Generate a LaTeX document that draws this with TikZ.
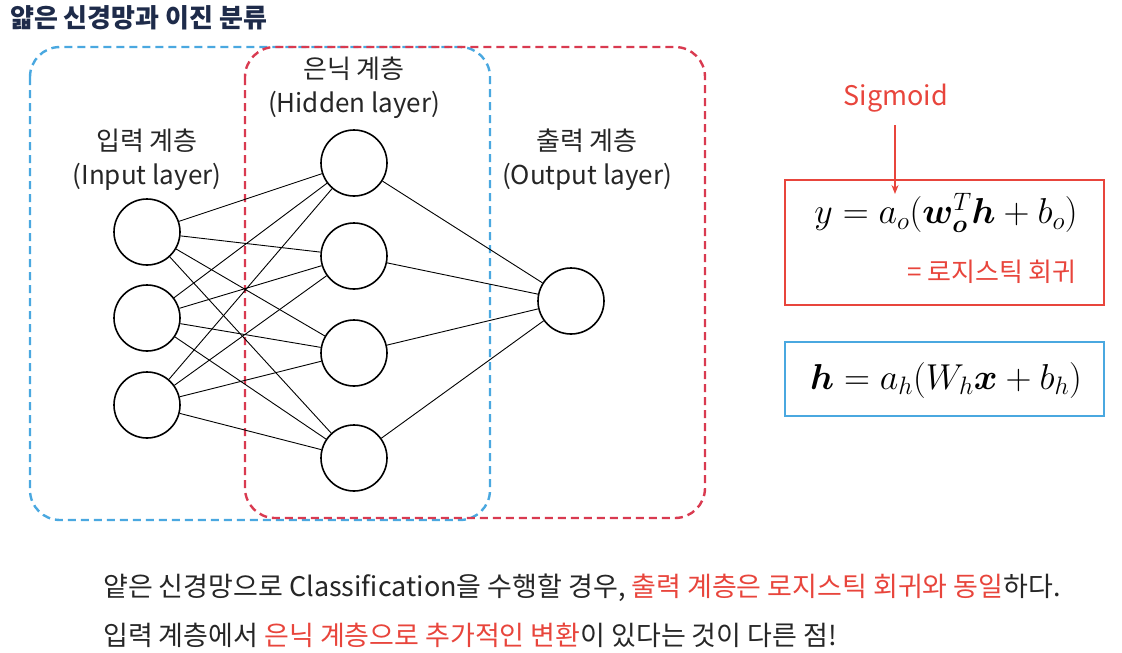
\RequirePackage{fix-cm}
\documentclass[tikz,border=0pt]{standalone}
\usepackage{amsmath}
\usepackage{bm}
\usepackage{fontspec}
\setmainfont{Noto Sans CJK KR}
\usetikzlibrary{arrows.meta}
\definecolor{navy}{HTML}{1E2B4A}
\definecolor{dblue}{HTML}{4AA8E0}
\definecolor{dred}{HTML}{D93A50}
\definecolor{fred}{HTML}{E8453C}
\definecolor{fblue}{HTML}{4AA8E0}
\tikzset{
  neuron/.style={circle,draw=black,line width=1.6pt,minimum size=66pt,inner sep=0pt},
  conn/.style={draw=black,line width=0.9pt},
  dashbox/.style={line width=2.4pt,dash pattern=on 8pt off 5pt,rounded corners=30pt},
  lbl/.style={font=\fontsize{26}{34}\selectfont,align=center,text=black!85},
  fbox/.style={line width=2.4pt},
  body/.style={font=\fontsize{27}{32}\selectfont,anchor=west,text=black!85,inner sep=0pt}
}
\begin{document}
\begin{tikzpicture}[x=1pt,y=-1pt]
\useasboundingbox (0,0) rectangle (1122,653);
% title
\node[anchor=west,inner sep=0pt,text=navy,font=\fontsize{26}{30}\selectfont\bfseries] (title) at (10,18) {얇은 신경망과 이진 분류};
% dashed boxes
\draw[dashbox,draw=dblue] (30,47) rectangle (490,520);
\draw[dashbox,draw=dred] (245,47) rectangle (705,518);
% neurons
\node[neuron] (i1) at (147,232) {};
\node[neuron] (i2) at (147,318) {};
\node[neuron] (i3) at (147,405) {};
\node[neuron] (h1) at (354,163) {};
\node[neuron] (h2) at (354,256) {};
\node[neuron] (h3) at (354,353) {};
\node[neuron] (h4) at (354,458) {};
\node[neuron] (o1) at (571,301) {};
\foreach \i in {i1,i2,i3}{
  \foreach \h in {h1,h2,h3,h4}{
    \draw[conn] (\i) -- (\h);
  }
}
\foreach \h in {h1,h2,h3,h4}{
  \draw[conn] (\h) -- (o1);
}
% layer labels
\node[lbl] (li) at (147,160) {입력 계층\\(Input layer)};
\node[lbl] (lh) at (354,88) {은닉 계층\\(Hidden layer)};
\node[lbl] (lo) at (587,160) {출력 계층\\(Output layer)};
% formula boxes
\draw[fbox,draw=fred] (785,180) rectangle (1104,305);
\node[font=\fontsize{36}{40}\selectfont] (fy) at (946,213) {$y = a_o(\bm{w}_{\bm{o}}^{T}\bm{h} + b_o)$};
\node[text=fred,font=\fontsize{26}{30}\selectfont] (lr) at (992,272) {= 로지스틱 회귀};
\node[text=fred,font=\fontsize{27}{30}\selectfont] (sig) at (896,98) {Sigmoid};
\coordinate (sa) at (895,125);
\coordinate (sb) at (895,194);
\draw[draw=fred,line width=1.2pt,-{Stealth[length=9pt,width=7pt]}] (sa) -- (sb);
\draw[fbox,draw=fblue] (785,342) rectangle (1104,416);
\node[font=\fontsize{36}{40}\selectfont] (fh) at (946,380) {$\bm{h} = a_h(W_h\bm{x} + b_h)$};
% bottom text
\node[body] (t1) at (103,588) {얕은 신경망으로 Classification을 수행할 경우, \textcolor{fred}{출력 계층은 로지스틱 회귀와 동일}하다.};
\node[body] (t2) at (103,635) {입력 계층에서 \textcolor{fred}{은닉 계층으로 추가적인 변환}이 있다는 것이 다른 점!};
\end{tikzpicture}
\end{document}
